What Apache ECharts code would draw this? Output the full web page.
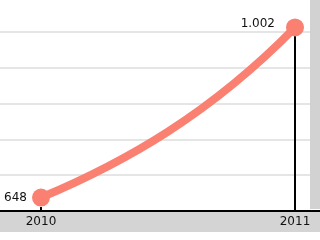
<!DOCTYPE html>
<html><head><meta charset="utf-8">
<script src="https://cdn.jsdelivr.net/npm/echarts@6/dist/echarts.min.js"></script>
<style>html,body{margin:0;padding:0;background:#fff}#c{width:320px;height:240px}</style>
</head><body><div id="c"></div>
<script>
var categories = ['2010', '2011'];
var values = [648, 1002];

function fmt(v) { return String(v).replace(/\B(?=(\d{3})+(?!\d))/g, '.'); }

var salmon = '#fa8072';
var font = 'DejaVu Sans';
var yMin = 620, yMax = 992.6;

var chart = echarts.init(document.getElementById('c'), null, {renderer: 'canvas'});
chart.setOption({
  backgroundColor: '#fff',
  animation: false,
  graphic: [
    {type: 'rect', shape: {x: 0, y: 212, width: 320, height: 20}, style: {fill: '#d4d4d4'}, z: -10},
    {type: 'rect', shape: {x: 310, y: 0, width: 10, height: 209}, style: {fill: '#d2d2d2'}, z: 100}
  ],
  grid: [
    {left: 0, right: 0, top: 32, bottom: 29},
    {left: 41, right: 25, top: 32, bottom: 29}
  ],
  xAxis: [
    {gridIndex: 0, type: 'value', min: 0, max: 1, show: true,
     axisLine: {show: true, onZero: false, lineStyle: {color: '#000', width: 2}},
     axisTick: {show: false}, axisLabel: {show: false}, splitLine: {show: false}},
    {gridIndex: 1, type: 'category', data: categories, boundaryGap: false,
     axisLine: {show: false},
     axisTick: {show: true, inside: true, length: 4, lineStyle: {color: '#000', width: 2}},
     axisLabel: {fontFamily: font, fontSize: 12, color: '#111', margin: 5},
     splitLine: {show: false}}
  ],
  yAxis: [
    {gridIndex: 0, type: 'value', min: 0, max: 5, interval: 1,
     axisLine: {show: false}, axisTick: {show: false}, axisLabel: {show: false},
     splitLine: {show: true, lineStyle: {color: '#e5e5e5', width: 2}}},
    {gridIndex: 1, type: 'value', min: yMin, max: yMax,
     axisLine: {show: false}, axisTick: {show: false}, axisLabel: {show: false},
     splitLine: {show: false}}
  ],
  series: [
    {
      type: 'custom', xAxisIndex: 1, yAxisIndex: 1, z: 2, clip: false,
      data: values.map(function (v, i) { return [i, v]; }),
      renderItem: function (params, api) {
        if (params.dataIndex !== values.length - 1) return null;
        var last = values.length - 1;
        var p0 = api.coord([0, values[0]]);
        var p1 = api.coord([last, values[last]]);
        var pb = api.coord([last, yMin]);
        var dx = (p1[0] - p0[0]) / 3;
        return {
          type: 'group',
          children: [
            {
              type: 'line',
              shape: {x1: p1[0], y1: p1[1], x2: pb[0], y2: pb[1]},
              style: {stroke: '#000', lineWidth: 2}
            },
            {
              type: 'bezierCurve',
              shape: {
                x1: p0[0], y1: p0[1], x2: p1[0], y2: p1[1],
                cpx1: p0[0] + dx, cpy1: p0[1] - dx * 0.42,
                cpx2: p1[0] - dx, cpy2: p1[1] + dx * 1.02
              },
              style: {stroke: salmon, lineWidth: 8, fill: null, lineCap: 'round'}
            }
          ]
        };
      }
    },
    {
      type: 'line', xAxisIndex: 1, yAxisIndex: 1, z: 3, clip: false,
      data: values.map(function (v, i) {
        return i === values.length - 1 ? {value: v, label: {distance: 11, offset: [0, -4]}} : v;
      }),
      symbol: 'circle', symbolSize: 18, showSymbol: true,
      lineStyle: {opacity: 0}, itemStyle: {color: salmon},
      label: {show: true, position: 'left', distance: 5, fontFamily: font, fontSize: 12, color: '#111',
              formatter: function (p) { return fmt(p.value); }}
    }
  ]
});
</script></body></html>
